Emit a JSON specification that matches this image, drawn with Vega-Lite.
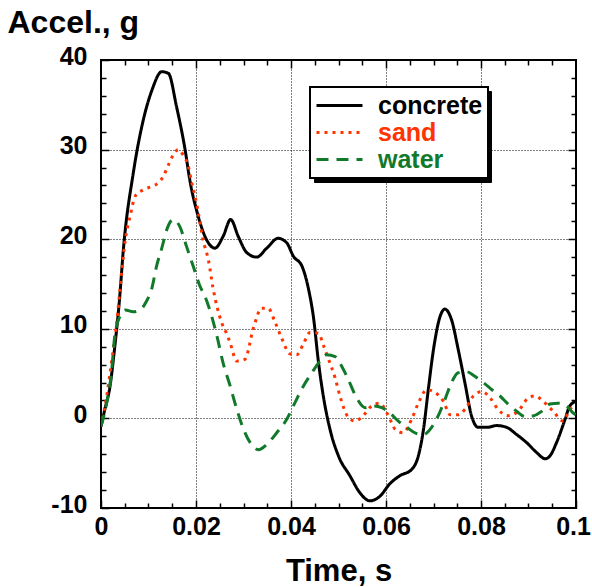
{
  "$schema": "https://vega.github.io/schema/vega-lite/v6.json",
  "width": 475,
  "height": 448,
  "autosize": "none",
  "padding": {"left": 101, "top": 60, "right": 16, "bottom": 79},
  "background": "white",
  "datasets": {
    "curves": [
      {"s":"concrete","t":0,"a":-0.9},{"s":"concrete","t":0.0008,"a":1.0},{"s":"concrete","t":0.0019,"a":3.6},{"s":"concrete","t":0.0029,"a":8.0},{"s":"concrete","t":0.0039,"a":13.3},{"s":"concrete","t":0.0047,"a":18.8},{"s":"concrete","t":0.0068,"a":27.4},{"s":"concrete","t":0.0089,"a":33.3},{"s":"concrete","t":0.0107,"a":36.6},{"s":"concrete","t":0.0128,"a":38.7},{"s":"concrete","t":0.0142,"a":38.5},{"s":"concrete","t":0.0159,"a":34.8},{"s":"concrete","t":0.0177,"a":30.0},{"s":"concrete","t":0.0187,"a":26.6},{"s":"concrete","t":0.0205,"a":22.5},{"s":"concrete","t":0.0219,"a":20.3},{"s":"concrete","t":0.024,"a":19.0},{"s":"concrete","t":0.0257,"a":20.3},{"s":"concrete","t":0.0273,"a":22.2},{"s":"concrete","t":0.0289,"a":20.3},{"s":"concrete","t":0.0307,"a":18.5},{"s":"concrete","t":0.0328,"a":18.0},{"s":"concrete","t":0.0349,"a":19.0},{"s":"concrete","t":0.0373,"a":20.1},{"s":"concrete","t":0.0391,"a":19.6},{"s":"concrete","t":0.0405,"a":18.1},{"s":"concrete","t":0.0423,"a":17.0},{"s":"concrete","t":0.0437,"a":14.4},{"s":"concrete","t":0.0447,"a":11.4},{"s":"concrete","t":0.0458,"a":6.2},{"s":"concrete","t":0.0468,"a":2.5},{"s":"concrete","t":0.0482,"a":-1.2},{"s":"concrete","t":0.05,"a":-4.2},{"s":"concrete","t":0.0524,"a":-6.4},{"s":"concrete","t":0.0545,"a":-8.3},{"s":"concrete","t":0.0566,"a":-9.2},{"s":"concrete","t":0.0587,"a":-8.7},{"s":"concrete","t":0.0608,"a":-7.3},{"s":"concrete","t":0.0629,"a":-6.4},{"s":"concrete","t":0.0654,"a":-5.7},{"s":"concrete","t":0.0668,"a":-4.2},{"s":"concrete","t":0.0679,"a":-1.2},{"s":"concrete","t":0.0689,"a":3.2},{"s":"concrete","t":0.07,"a":7.7},{"s":"concrete","t":0.0714,"a":11.4},{"s":"concrete","t":0.0724,"a":12.2},{"s":"concrete","t":0.0738,"a":11.0},{"s":"concrete","t":0.0752,"a":7.7},{"s":"concrete","t":0.0766,"a":4.0},{"s":"concrete","t":0.078,"a":0.3},{"s":"concrete","t":0.0794,"a":-1.0},{"s":"concrete","t":0.0812,"a":-1.0},{"s":"concrete","t":0.0833,"a":-0.8},{"s":"concrete","t":0.0854,"a":-1.0},{"s":"concrete","t":0.0875,"a":-1.8},{"s":"concrete","t":0.0896,"a":-2.7},{"s":"concrete","t":0.0917,"a":-3.8},{"s":"concrete","t":0.0935,"a":-4.5},{"s":"concrete","t":0.0945,"a":-4.2},{"s":"concrete","t":0.0959,"a":-2.7},{"s":"concrete","t":0.0977,"a":-0.1},{"s":"concrete","t":0.0987,"a":1.4},{"s":"concrete","t":0.1,"a":1.9},
      {"s":"sand","t":0,"a":-0.9},{"s":"sand","t":0.0012,"a":2.5},{"s":"sand","t":0.0022,"a":6.2},{"s":"sand","t":0.0033,"a":10.7},{"s":"sand","t":0.004,"a":14.4},{"s":"sand","t":0.0051,"a":19.9},{"s":"sand","t":0.0061,"a":22.5},{"s":"sand","t":0.0072,"a":24.8},{"s":"sand","t":0.0089,"a":25.5},{"s":"sand","t":0.0107,"a":25.9},{"s":"sand","t":0.0121,"a":26.3},{"s":"sand","t":0.0131,"a":27.0},{"s":"sand","t":0.0142,"a":28.3},{"s":"sand","t":0.0152,"a":29.4},{"s":"sand","t":0.0163,"a":30.0},{"s":"sand","t":0.0173,"a":29.4},{"s":"sand","t":0.0184,"a":28.1},{"s":"sand","t":0.0191,"a":26.3},{"s":"sand","t":0.0198,"a":24.8},{"s":"sand","t":0.0205,"a":22.9},{"s":"sand","t":0.0215,"a":19.9},{"s":"sand","t":0.0226,"a":17.7},{"s":"sand","t":0.0236,"a":14.5},{"s":"sand","t":0.0254,"a":10.7},{"s":"sand","t":0.0265,"a":9.4},{"s":"sand","t":0.0272,"a":8.4},{"s":"sand","t":0.0286,"a":6.4},{"s":"sand","t":0.0303,"a":6.6},{"s":"sand","t":0.0321,"a":10.1},{"s":"sand","t":0.0338,"a":12.3},{"s":"sand","t":0.0352,"a":12.3},{"s":"sand","t":0.0366,"a":10.8},{"s":"sand","t":0.038,"a":9.0},{"s":"sand","t":0.0398,"a":7.2},{"s":"sand","t":0.0412,"a":7.1},{"s":"sand","t":0.0426,"a":8.3},{"s":"sand","t":0.044,"a":9.6},{"s":"sand","t":0.0458,"a":9.5},{"s":"sand","t":0.0468,"a":8.2},{"s":"sand","t":0.0479,"a":6.6},{"s":"sand","t":0.0493,"a":4.5},{"s":"sand","t":0.0503,"a":2.5},{"s":"sand","t":0.0521,"a":0.1},{"s":"sand","t":0.0535,"a":-0.3},{"s":"sand","t":0.0552,"a":0.3},{"s":"sand","t":0.057,"a":1.4},{"s":"sand","t":0.0587,"a":1.7},{"s":"sand","t":0.0605,"a":0.3},{"s":"sand","t":0.0619,"a":-1.2},{"s":"sand","t":0.0636,"a":-1.6},{"s":"sand","t":0.0654,"a":-0.1},{"s":"sand","t":0.0668,"a":1.7},{"s":"sand","t":0.0686,"a":3.2},{"s":"sand","t":0.0703,"a":2.9},{"s":"sand","t":0.0721,"a":1.9},{"s":"sand","t":0.0735,"a":0.4},{"s":"sand","t":0.0752,"a":0.4},{"s":"sand","t":0.0766,"a":1.0},{"s":"sand","t":0.0784,"a":2.5},{"s":"sand","t":0.0802,"a":3.0},{"s":"sand","t":0.0819,"a":2.3},{"s":"sand","t":0.0836,"a":1.0},{"s":"sand","t":0.0857,"a":0.3},{"s":"sand","t":0.0878,"a":0.8},{"s":"sand","t":0.09,"a":2.3},{"s":"sand","t":0.0914,"a":2.5},{"s":"sand","t":0.0931,"a":1.9},{"s":"sand","t":0.0952,"a":0.8},{"s":"sand","t":0.0973,"a":-0.3},{"s":"sand","t":0.0987,"a":1.0},{"s":"sand","t":0.1,"a":1.5},
      {"s":"water","t":0,"a":-0.9},{"s":"water","t":0.0012,"a":1.7},{"s":"water","t":0.0022,"a":5.1},{"s":"water","t":0.0029,"a":9.2},{"s":"water","t":0.004,"a":11.4},{"s":"water","t":0.0051,"a":12.1},{"s":"water","t":0.0068,"a":11.9},{"s":"water","t":0.0082,"a":12.1},{"s":"water","t":0.0096,"a":13.1},{"s":"water","t":0.0107,"a":14.5},{"s":"water","t":0.0117,"a":17.0},{"s":"water","t":0.0128,"a":19.0},{"s":"water","t":0.0138,"a":21.0},{"s":"water","t":0.0152,"a":22.2},{"s":"water","t":0.0166,"a":21.4},{"s":"water","t":0.018,"a":19.2},{"s":"water","t":0.0194,"a":17.0},{"s":"water","t":0.0208,"a":14.8},{"s":"water","t":0.0219,"a":13.6},{"s":"water","t":0.0233,"a":11.4},{"s":"water","t":0.0244,"a":9.2},{"s":"water","t":0.0257,"a":6.2},{"s":"water","t":0.0272,"a":3.6},{"s":"water","t":0.0286,"a":1.0},{"s":"water","t":0.03,"a":-1.2},{"s":"water","t":0.0314,"a":-2.7},{"s":"water","t":0.0331,"a":-3.5},{"s":"water","t":0.0349,"a":-2.9},{"s":"water","t":0.037,"a":-1.6},{"s":"water","t":0.0391,"a":-0.1},{"s":"water","t":0.0405,"a":1.4},{"s":"water","t":0.0426,"a":3.6},{"s":"water","t":0.0444,"a":5.1},{"s":"water","t":0.0461,"a":6.4},{"s":"water","t":0.0475,"a":7.1},{"s":"water","t":0.0493,"a":6.9},{"s":"water","t":0.0507,"a":5.8},{"s":"water","t":0.0521,"a":4.3},{"s":"water","t":0.0538,"a":2.3},{"s":"water","t":0.0556,"a":1.2},{"s":"water","t":0.0573,"a":1.4},{"s":"water","t":0.0591,"a":1.2},{"s":"water","t":0.0608,"a":0.6},{"s":"water","t":0.0626,"a":-0.3},{"s":"water","t":0.0644,"a":-1.0},{"s":"water","t":0.0665,"a":-1.7},{"s":"water","t":0.0679,"a":-1.8},{"s":"water","t":0.0696,"a":-1.0},{"s":"water","t":0.071,"a":0.3},{"s":"water","t":0.0724,"a":2.1},{"s":"water","t":0.0738,"a":4.0},{"s":"water","t":0.0752,"a":5.1},{"s":"water","t":0.077,"a":5.2},{"s":"water","t":0.0787,"a":4.7},{"s":"water","t":0.0805,"a":4.0},{"s":"water","t":0.0823,"a":3.2},{"s":"water","t":0.084,"a":2.5},{"s":"water","t":0.0857,"a":1.6},{"s":"water","t":0.0875,"a":0.8},{"s":"water","t":0.0893,"a":0.2},{"s":"water","t":0.0911,"a":0.3},{"s":"water","t":0.0928,"a":0.8},{"s":"water","t":0.0945,"a":1.6},{"s":"water","t":0.0963,"a":1.7},{"s":"water","t":0.098,"a":1.4},{"s":"water","t":0.0994,"a":0.6},{"s":"water","t":0.1,"a":0.4}
    ],
    "empty": []
  },
  "layer": [
    {
      "data": {"name": "curves"},
      "mark": {"type": "line", "strokeWidth": 3, "interpolate": "monotone", "strokeCap": "butt", "clip": true},
      "encoding": {
        "x": {"field": "t", "type": "quantitative", "scale": {"domain": [0, 0.1], "nice": false, "zero": false},
          "axis": {"orient": "bottom", "title": "Time, s", "values": [0, 0.02, 0.04, 0.06, 0.08, 0.1], "format": "~g", "grid": true, "tickSize": -8, "labelPadding": 14, "titleY": 72, "titleBaseline": "alphabetic", "labelFlush": false,
            "labelOffset": {"condition": {"test": "datum.value > 0.09", "value": -3}, "value": 0}}},
        "y": {"field": "a", "type": "quantitative", "scale": {"domain": [-10, 40], "nice": false, "zero": false},
          "axis": {"orient": "left", "title": "Accel., g", "values": [-10, 0, 10, 20, 30, 40], "labelExpr": "toString(datum.value)", "labelOffset": -4, "grid": true, "tickSize": -8, "labelPadding": 22, "titleAngle": 0, "titleAlign": "left", "titleBaseline": "alphabetic", "titleX": -94, "titleY": -28, "titleFontSize": 32, "labelFlush": false}},
        "color": {"field": "s", "type": "nominal",
          "scale": {"range": ["#000000", "#ff3300", "#117a2a"]},
          "legend": {"orient": "none", "legendX": 209, "legendY": 27, "title": null, "symbolType": "stroke", "symbolSize": 2116, "symbolStrokeWidth": 3, "labelFont": "Liberation Sans", "labelFontWeight": "bold", "labelFontSize": 25, "labelOffset": 14, "padding": 5, "rowPadding": 0, "clipHeight": 27, "fillColor": "white", "strokeColor": "black", "zindex": 1,
            "encode": {"legend": {"update": {"strokeWidth": {"value": 2}}}, "labels": {"update": {"fill": {"scale": "color", "field": "value"}}}}}},
        "strokeDash": {"field": "s", "type": "nominal", "scale": {"range": [[1, 0], [3, 5], [12, 8]]}}
      }
    },
    {
      "data": {"name": "empty"},
      "mark": {"type": "point", "opacity": 0},
      "encoding": {
        "x": {"field": "t", "type": "quantitative", "axis": {"orient": "bottom", "title": null, "labels": false, "grid": false, "tickSize": -5, "values": [0.005, 0.01, 0.015, 0.025, 0.03, 0.035, 0.045, 0.05, 0.055, 0.065, 0.07, 0.075, 0.085, 0.09, 0.095]}},
        "y": {"field": "a", "type": "quantitative", "axis": {"orient": "left", "title": null, "labels": false, "grid": false, "tickSize": -5, "values": [-8, -6, -4, -2, 2, 4, 6, 8, 12, 14, 16, 18, 22, 24, 26, 28, 32, 34, 36, 38]}},
        "shape": {"field": "s", "type": "nominal",
          "scale": {"domain": ["concrete", "sand", "water"], "range": ["stroke", "stroke", "stroke"]},
          "legend": {"orient": "none", "legendX": 213, "legendY": 31, "title": null, "symbolSize": 2116, "symbolStrokeWidth": 3, "symbolStrokeColor": "black", "symbolFillColor": "black", "labelExpr": "''", "labelFontSize": 25, "labelOffset": 118, "padding": 5, "rowPadding": 0, "clipHeight": 27, "fillColor": "black", "strokeColor": "black", "zindex": 0,
            "encode": {"legend": {"update": {"strokeWidth": {"value": 2}}}}}}
      }
    },
    {
      "data": {"name": "empty"},
      "mark": {"type": "point", "opacity": 0},
      "encoding": {
        "x": {"field": "t", "type": "quantitative", "axis": {"orient": "top", "title": null, "labels": false, "grid": false, "tickSize": -8, "values": [0.02, 0.04, 0.06, 0.08]}},
        "y": {"field": "a", "type": "quantitative", "axis": {"orient": "right", "title": null, "labels": false, "grid": false, "tickSize": -8, "values": [0, 10, 20, 30]}}
      }
    },
    {
      "data": {"name": "empty"},
      "mark": {"type": "point", "opacity": 0},
      "encoding": {
        "x": {"field": "t", "type": "quantitative", "axis": {"orient": "top", "title": null, "labels": false, "grid": false, "tickSize": -5, "values": [0.005, 0.01, 0.015, 0.025, 0.03, 0.035, 0.045, 0.05, 0.055, 0.065, 0.07, 0.075, 0.085, 0.09, 0.095]}},
        "y": {"field": "a", "type": "quantitative", "axis": {"orient": "right", "title": null, "labels": false, "grid": false, "tickSize": -5, "values": [-8, -6, -4, -2, 2, 4, 6, 8, 12, 14, 16, 18, 22, 24, 26, 28, 32, 34, 36, 38]}}
      }
    }
  ],
  "resolve": {"axis": {"x": "independent", "y": "independent"}},
  "config": {
    "view": {"stroke": "black", "strokeWidth": 2},
    "axis": {
      "labelFont": "Liberation Sans", "labelFontWeight": "bold", "labelFontSize": 25, "labelColor": "black",
      "titleFont": "Liberation Sans", "titleFontWeight": "bold", "titleFontSize": 31, "titleColor": "black",
      "tickColor": "black", "tickWidth": 1.5, "domain": false,
      "gridColor": "black", "gridDash": [1, 2], "gridWidth": 1, "gridOpacity": 1
    }
  }
}
